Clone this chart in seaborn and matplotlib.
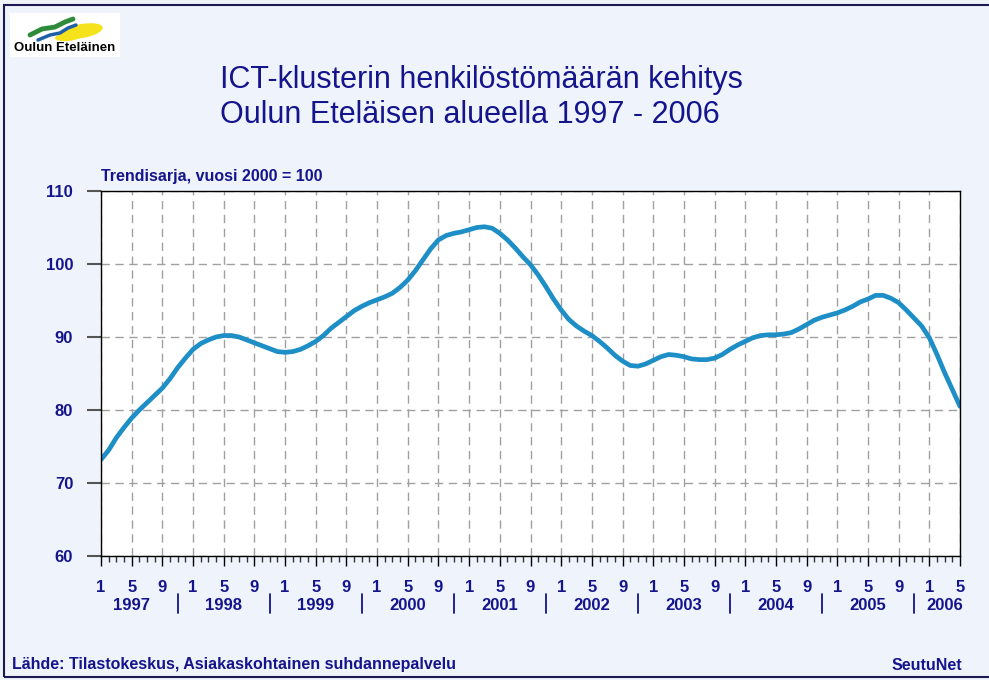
import numpy as np
import pandas as pd
import seaborn as sns
import matplotlib.pyplot as plt
from matplotlib.patches import Rectangle, Ellipse
from matplotlib.ticker import MultipleLocator

# trend index (2000 = 100), monthly Jan 1997 .. May 2006
values = [
    73.2, 74.5, 76.2, 77.6, 78.9, 80.0, 81.0, 82.0, 83.0, 84.3, 85.8, 87.1,   # 1997
    88.3, 89.1, 89.6, 90.0, 90.2, 90.2, 90.0, 89.6, 89.2, 88.8, 88.4, 88.0,   # 1998
    87.9, 88.0, 88.3, 88.8, 89.4, 90.2, 91.2, 92.0, 92.8, 93.6, 94.2, 94.7,   # 1999
    95.1, 95.5, 96.0, 96.8, 97.8, 99.1, 100.6, 102.1, 103.3, 103.9, 104.2, 104.4,  # 2000
    104.7, 105.0, 105.1, 104.9, 104.2, 103.3, 102.2, 101.0, 99.9, 98.5, 96.9, 95.2,  # 2001
    93.7, 92.4, 91.5, 90.8, 90.2, 89.4, 88.5, 87.5, 86.7, 86.1, 86.0, 86.3,   # 2002
    86.8, 87.3, 87.6, 87.5, 87.3, 87.0, 86.9, 86.9, 87.1, 87.6, 88.3, 88.9,   # 2003
    89.4, 89.9, 90.2, 90.3, 90.3, 90.4, 90.6, 91.1, 91.7, 92.3, 92.7, 93.0,   # 2004
    93.3, 93.7, 94.2, 94.8, 95.2, 95.7, 95.7, 95.3, 94.7, 93.7, 92.6, 91.5,   # 2005
    89.9, 87.6, 85.1, 82.8, 80.5,                                             # 2006
]
years = [1997, 1998, 1999, 2000, 2001, 2002, 2003, 2004, 2005, 2006]
month_labels = ['1', '5', '9']

df = pd.DataFrame({'idx': np.arange(len(values)), 'value': values})

navy = '#14148C'
bg = '#EFF4FC'

sns.set_theme(style='white')
plt.rcParams['font.family'] = ['Liberation Sans', 'DejaVu Sans']

fig = plt.figure(figsize=(9.89, 6.80), dpi=100)
fig.patch.set_facecolor(bg)
fig.patches.append(Rectangle((4 / 989, 3 / 680), 1.2, 672 / 680, transform=fig.transFigure,
                             fill=False, edgecolor='#1A1A50', linewidth=1.5))

ax = fig.add_axes([101 / 989, 1 - 556 / 680, 859 / 989, 365 / 680])
ax.set_facecolor('white')
sns.lineplot(data=df, x='idx', y='value', ax=ax, color='#1E8FC6', linewidth=3.4)

ax.set_xlim(0, len(values) - 1)
ax.set_ylim(60, 110)
ax.yaxis.set_major_locator(MultipleLocator(10))
ax.set_yticklabels([f'{int(v)}' for v in ax.get_yticks()])

major = [i for i in range(len(values)) if i % 12 in (0, 4, 8)]
ax.set_xticks(major)
ax.set_xticklabels([month_labels[(i % 12) // 4] for i in major])
ax.set_xticks(range(len(values)), minor=True)

ax.grid(True, which='major', color='#A0A0A0', linestyle=(0, (6, 4)), linewidth=1)
for s in ax.spines.values():
    s.set_color('black')
    s.set_linewidth(1)

ax.tick_params(axis='x', which='major', direction='out', length=7, width=1, color='black',
               bottom=True, pad=10, labelsize=12, labelcolor=navy)
ax.tick_params(axis='x', which='minor', direction='out', length=4, width=1, color='#333333', bottom=True)
ax.tick_params(axis='y', which='major', direction='out', length=10, width=1.5, color='#555555',
               left=True, pad=10, labelsize=12, labelcolor=navy)
for lab in ax.get_xticklabels() + ax.get_yticklabels():
    lab.set_fontweight('bold')
ax.set_xlabel('')
ax.set_ylabel('')

# year labels and separators
trans = ax.get_xaxis_transform()
for k, y in enumerate(years):
    xpos = k * 12 + 4 if y != 2006 else k * 12 + 2
    ax.text(xpos, -0.135, str(y), transform=trans, ha='center', va='center',
            fontsize=12, fontweight='bold', color=navy)
    if k > 0:
        xs = k * 12 - 2
        ax.plot([xs, xs], [-0.104, -0.156], transform=trans, color=navy,
                linewidth=1.3, clip_on=False)

ax.text(0, 1.02, 'Trendisarja, vuosi 2000 = 100', transform=ax.transAxes, ha='left',
        va='bottom', fontsize=11.5, fontweight='bold', color=navy)

fig.text(220 / 989, 1 - 80 / 680, 'ICT-klusterin henkilöstömäärän kehitys',
         ha='left', va='center', fontsize=22, color=navy)
fig.text(220 / 989, 1 - 115 / 680, 'Oulun Eteläisen alueella 1997 - 2006',
         ha='left', va='center', fontsize=22, color=navy)

fig.text(12 / 989, 1 - 665 / 680, 'Lähde: Tilastokeskus, Asiakaskohtainen suhdannepalvelu',
         ha='left', va='center', fontsize=11.5, fontweight='bold', color=navy)
fig.text(962 / 989, 1 - 665 / 680, 'SeutuNet', ha='right', va='center',
         fontsize=11.5, fontweight='bold', color=navy)

# logo
logo = fig.add_axes([10 / 989, 1 - 57 / 680, 110 / 989, 44 / 680])
logo.set_xlim(0, 110)
logo.set_ylim(44, 0)
logo.axis('off')
logo.add_patch(Rectangle((0, 0), 110, 44, facecolor='white', edgecolor='none'))
logo.add_patch(Ellipse((72, 18), 42, 14, angle=-10, facecolor='#F6E21A', edgecolor='none'))
logo.add_patch(Ellipse((58, 24), 26, 8, angle=-5, facecolor='#F6E21A', edgecolor='none'))
logo.plot([20, 32, 45, 55, 63], [22, 16, 14, 9, 6], color='#2E8B3A', linewidth=3.5, solid_capstyle='round')
logo.plot([28, 40, 50, 58, 66], [27, 22, 20, 15, 12], color='#1F5FA8', linewidth=2.5, solid_capstyle='round')
logo.text(55, 35, 'Oulun Eteläinen', ha='center', va='center', fontsize=9.5,
          fontweight='bold', color='black')

fig.savefig('out.png', dpi=100, facecolor=bg)
